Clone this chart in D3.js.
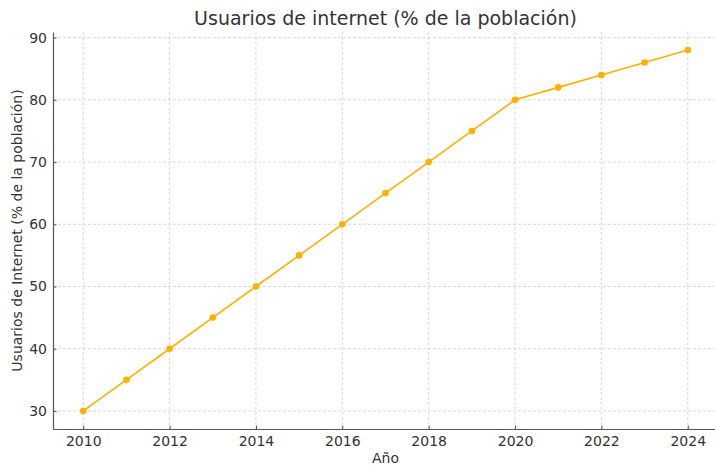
<!DOCTYPE html>
<html>
<head>
<meta charset="utf-8">
<script src="https://cdn.jsdelivr.net/npm/d3@7"></script>
<style>
  body { margin: 0; background: #fff; }
  svg { font-family: "DejaVu Sans", sans-serif; }
</style>
</head>
<body>
<div id="chart"></div>
<script>
// data
const years = [2010, 2011, 2012, 2013, 2014, 2015, 2016, 2017, 2018, 2019, 2020, 2021, 2022, 2023, 2024];
const users = [30, 35, 40, 45, 50, 55, 60, 65, 70, 75, 80, 82, 84, 86, 88];
const xTicks = [2010, 2012, 2014, 2016, 2018, 2020, 2022, 2024];
const yTicks = [30, 40, 50, 60, 70, 80, 90];

const width = 715, height = 465;
const margin = { top: 32, right: -3, bottom: 36, left: 53 };

const svg = d3.select("#chart").append("svg")
    .attr("width", width)
    .attr("height", height);

const x = d3.scaleLinear()
    .domain([2009.3, 2024.7])
    .range([margin.left, width - margin.right]);

const y = d3.scaleLinear()
    .domain([27.1, 90.9])
    .range([height - margin.bottom, margin.top]);

// grid
svg.append("g")
    .selectAll("line")
    .data(xTicks)
    .join("line")
    .attr("x1", d => x(d)).attr("x2", d => x(d))
    .attr("y1", margin.top).attr("y2", height - margin.bottom)
    .attr("stroke", "#d0d0d0").attr("stroke-width", 0.8)
    .attr("stroke-dasharray", "3,2");

svg.append("g")
    .selectAll("line")
    .data(yTicks)
    .join("line")
    .attr("x1", margin.left).attr("x2", width)
    .attr("y1", d => y(d)).attr("y2", d => y(d))
    .attr("stroke", "#d0d0d0").attr("stroke-width", 0.8)
    .attr("stroke-dasharray", "3,2");

// axes
const xAxis = svg.append("g")
    .attr("transform", `translate(0,${height - margin.bottom})`)
    .call(d3.axisBottom(x).tickValues(xTicks).tickFormat(d3.format("d")).tickSizeInner(-3.5).tickSizeOuter(0).tickPadding(7));

const yAxis = svg.append("g")
    .attr("transform", `translate(${margin.left},0)`)
    .call(d3.axisLeft(y).tickValues(yTicks).tickSizeInner(-3.5).tickSizeOuter(0).tickPadding(6));

[xAxis, yAxis].forEach(g => {
  g.select(".domain").attr("stroke", "#555").attr("stroke-width", 1.2);
  g.selectAll(".tick line").attr("stroke", "#555");
  g.selectAll(".tick text")
    .attr("fill", "#333")
    .style("font-size", "14px")
    .style("font-family", "DejaVu Sans, sans-serif");
});

// line
svg.append("path")
    .datum(years.map((d, i) => [d, users[i]]))
    .attr("fill", "none")
    .attr("stroke", "#FFB000")
    .attr("stroke-width", 1.6)
    .attr("d", d3.line().x(d => x(d[0])).y(d => y(d[1])));

svg.append("g")
    .selectAll("circle")
    .data(years.map((d, i) => [d, users[i]]))
    .join("circle")
    .attr("cx", d => x(d[0]))
    .attr("cy", d => y(d[1]))
    .attr("r", 3.3)
    .attr("fill", "#FFB000");

// labels
svg.append("text")
    .attr("x", (margin.left + width - margin.right) / 2)
    .attr("y", 25)
    .attr("text-anchor", "middle")
    .attr("fill", "#333")
    .style("font-size", "19px")
    .text("Usuarios de internet (% de la población)");

svg.append("text")
    .attr("x", (margin.left + width - margin.right) / 2)
    .attr("y", 463)
    .attr("text-anchor", "middle")
    .attr("fill", "#333")
    .style("font-size", "14px")
    .text("Año");

svg.append("text")
    .attr("transform", `translate(22,${(margin.top + height - margin.bottom) / 2}) rotate(-90)`)
    .attr("text-anchor", "middle")
    .attr("fill", "#333")
    .style("font-size", "14px")
    .text("Usuarios de Internet (% de la población)");
</script>
</body>
</html>
